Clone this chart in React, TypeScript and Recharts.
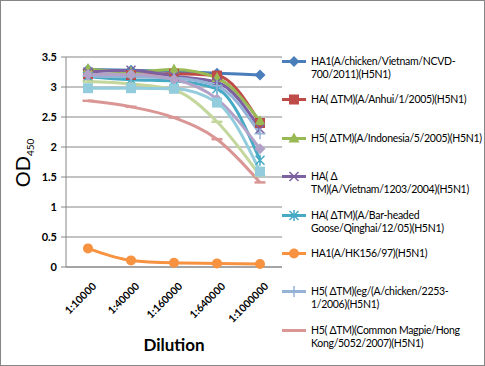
import { LineChart, Line, XAxis, YAxis, CartesianGrid, Legend } from "recharts"

const dilutions = ["1:10000", "1:40000", "1:160000", "1:640000", "1:1000000"]
const odTicks = [0, 0.5, 1, 1.5, 2, 2.5, 3, 3.5]

const vietnamNcvd700 = [3.29, 3.28, 3.26, 3.23, 3.2]
const anhui = [3.21, 3.2, 3.22, 3.19, 2.4]
const indonesia = [3.3, 3.25, 3.29, 3.15, 2.43]
const vietnam1203 = [3.25, 3.28, 3.18, 3.08, 2.3]
const qinghai = [3.17, 3.12, 3.1, 2.97, 1.78]
const hk156 = [0.31, 0.11, 0.07, 0.06, 0.05]
const chicken2253 = [3.18, 3.17, 3.15, 3.02, 2.22]
const magpie = [2.77, 2.67, 2.49, 2.13, 1.41]
const series9 = [3.09, 3.05, 2.95, 2.42, 1.52]
const series10 = [3.21, 3.21, 3.13, 2.8, 1.97]
const series11 = [2.98, 2.98, 2.97, 2.74, 1.59]

type Shape = "diamond" | "square" | "triangle" | "x" | "star" | "circle" | "plus" | "dash"

const series: { key: string; name: string; values: number[]; color: string; shape: Shape; legend: boolean }[] = [
  { key: "s1", name: "HA1(A/chicken/Vietnam/NCVD-700/2011)(H5N1)", values: vietnamNcvd700, color: "#4A7EBB", shape: "diamond", legend: true },
  { key: "s2", name: "HA( \u0394TM)(A/Anhui/1/2005)(H5N1)", values: anhui, color: "#BE4B48", shape: "square", legend: true },
  { key: "s3", name: "H5( \u0394TM)(A/Indonesia/5/2005)(H5N1)", values: indonesia, color: "#98B954", shape: "triangle", legend: true },
  { key: "s4", name: "HA( \u0394 TM)(A/Vietnam/1203/2004)(H5N1)", values: vietnam1203, color: "#7D60A0", shape: "x", legend: true },
  { key: "s5", name: "HA( \u0394TM)(A/Bar-headed Goose/Qinghai/12/05)(H5N1)", values: qinghai, color: "#46AAC5", shape: "star", legend: true },
  { key: "s6", name: "HA1(A/HK156/97)(H5N1)", values: hk156, color: "#F69240", shape: "circle", legend: true },
  { key: "s7", name: "H5( \u0394TM)(eg/(A/chicken/2253-1/2006)(H5N1)", values: chicken2253, color: "#95B3D7", shape: "plus", legend: true },
  { key: "s8", name: "H5( \u0394TM)(Common Magpie/Hong Kong/5052/2007)(H5N1)", values: magpie, color: "#D99694", shape: "dash", legend: true },
  { key: "s9", name: "Series9", values: series9, color: "#C3D69B", shape: "dash", legend: false },
  { key: "s10", name: "Series10", values: series10, color: "#B3A2C7", shape: "diamond", legend: false },
  { key: "s11", name: "Series11", values: series11, color: "#93CDDD", shape: "square", legend: false },
]

const rows = dilutions.map((d, i) => {
  const r: Record<string, string | number> = { dilution: d }
  series.forEach((s) => (r[s.key] = s.values[i]))
  return r
})

const FONT = "Lato, 'Liberation Sans', sans-serif"

function Marker({ cx, cy, shape, color }: { cx: number; cy: number; shape: Shape; color: string }) {
  switch (shape) {
    case "diamond":
      return <path d={`M${cx},${cy - 5.5}L${cx + 5.5},${cy}L${cx},${cy + 5.5}L${cx - 5.5},${cy}Z`} fill={color} />
    case "square":
      return <rect x={cx - 5} y={cy - 5} width={10} height={10} fill={color} />
    case "triangle":
      return <path d={`M${cx},${cy - 6}L${cx + 5.5},${cy + 4}L${cx - 5.5},${cy + 4}Z`} fill={color} />
    case "x":
      return (
        <path d={`M${cx - 4.5},${cy - 4.5}L${cx + 4.5},${cy + 4.5}M${cx + 4.5},${cy - 4.5}L${cx - 4.5},${cy + 4.5}`} stroke={color} strokeWidth={1.5} />
      )
    case "star":
      return (
        <path
          d={`M${cx - 4.5},${cy - 4.5}L${cx + 4.5},${cy + 4.5}M${cx + 4.5},${cy - 4.5}L${cx - 4.5},${cy + 4.5}M${cx},${cy - 5.5}L${cx},${cy + 5.5}`}
          stroke={color}
          strokeWidth={1.5}
        />
      )
    case "circle":
      return <circle cx={cx} cy={cy} r={5} fill={color} />
    case "plus":
      return <path d={`M${cx - 5.5},${cy}L${cx + 5.5},${cy}M${cx},${cy - 5.5}L${cx},${cy + 5.5}`} stroke={color} strokeWidth={1.5} />
    case "dash":
      return <path d={`M${cx - 5.5},${cy}L${cx + 5.5},${cy}`} stroke={color} strokeWidth={2.5} />
  }
  return null
}

function DilutionTick({ x, y, payload }: any) {
  return (
    <g transform={`translate(${x + 9},${y + 20})`}>
      <text textAnchor="end" transform="rotate(-45)" fontSize={10.5} fontWeight="bold" fontFamily={FONT} fill="#000">
        {payload.value}
      </text>
    </g>
  )
}

// wrap only at spaces and after hyphens, like the spreadsheet legend does
function WrappedName({ name }: { name: string }) {
  const words = name.split(" ")
  return (
    <>
      {words.map((w, i) => (
        <span key={i}>
          {w.split(/(?<=-)/).map((part, j) => (
            <span key={j} style={{ whiteSpace: "nowrap" }}>
              {part}
            </span>
          ))}
          {i < words.length - 1 ? " " : ""}
        </span>
      ))}
    </>
  )
}

function StrainLegend() {
  const shown = series.filter((s) => s.legend)
  return (
    <div style={{ position: "relative", width: 203, height: 310, fontFamily: FONT, fontSize: 10.5, lineHeight: "13px", letterSpacing: -0.3, color: "#000" }}>
      {shown.map((s, i) => (
        <div key={s.key} style={{ position: "absolute", left: 0, top: i * 38.4, width: 203 }}>
          <svg width={26} height={13} style={{ position: "absolute", left: 0, top: 0 }}>
            <line x1={0} y1={6.5} x2={24} y2={6.5} stroke={s.color} strokeWidth={3} />
            <Marker cx={12} cy={6.5} shape={s.shape} color={s.color} />
          </svg>
          <div style={{ position: "absolute", left: 29, top: 0, width: 176, textAlign: "left" }}>
            <WrappedName name={s.name} />
          </div>
        </div>
      ))}
    </div>
  )
}

export default function App() {
  return (
    <div style={{ position: "absolute", left: 0, top: 0, width: 485, height: 366, background: "#fff" }}>
      <LineChart width={485} height={366} data={rows} margin={{ top: 57, right: 203, bottom: 0, left: 26 }}>
        <CartesianGrid vertical={false} stroke="#868686" strokeWidth={1} />
        <XAxis
          dataKey="dilution"
          height={99}
          padding={{ left: 22, right: 22 }}
          stroke="#868686"
          tickLine={false}
          tickSize={0}
          tickMargin={0}
          interval={0}
          tick={<DilutionTick />}
          label={{
            content: ({ viewBox }: any) => (
              <text x={174} y={viewBox.y + 84} textAnchor="middle" fontSize={17} fontWeight="bold" fontFamily={FONT} fill="#000">
                Dilution
              </text>
            ),
          }}
        />
        <YAxis
          width={40}
          domain={[0, 3.5]}
          ticks={odTicks}
          interval={0}
          stroke="#868686"
          tickSize={5}
          tickMargin={4}
          tick={{ fontSize: 11, fontWeight: "bold", fontFamily: FONT, fill: "#000" }}
          label={{
            content: ({ viewBox }: any) => (
              <text
                transform={`translate(30,${viewBox.y + viewBox.height / 2 + 1}) rotate(-90)`}
                textAnchor="middle"
                fontSize={20}
                fontFamily={FONT}
                fill="#000"
              >
                OD
                <tspan fontSize={10} dy={4}>
                  450
                </tspan>
              </text>
            ),
          }}
        />
        <Legend
          layout="horizontal"
          align="center"
          verticalAlign="middle"
          wrapperStyle={{ left: 282, top: 55, width: 203, height: 310 }}
          content={() => <StrainLegend />}
        />
        {series.map((s) => (
          <Line
            key={s.key}
            dataKey={s.key}
            name={s.name}
            type="monotone"
            stroke={s.color}
            strokeWidth={3}
            legendType={s.legend ? "line" : "none"}
            dot={(p: any) => <Marker key={`${s.key}-${p.index}`} cx={p.cx} cy={p.cy} shape={s.shape} color={s.color} />}
            activeDot={false}
            isAnimationActive={false}
          />
        ))}
      </LineChart>
      <div style={{ position: "absolute", left: 0, top: 0, width: 485, height: 366, boxSizing: "border-box", border: "1px solid #868686", pointerEvents: "none" }} />
    </div>
  )
}
